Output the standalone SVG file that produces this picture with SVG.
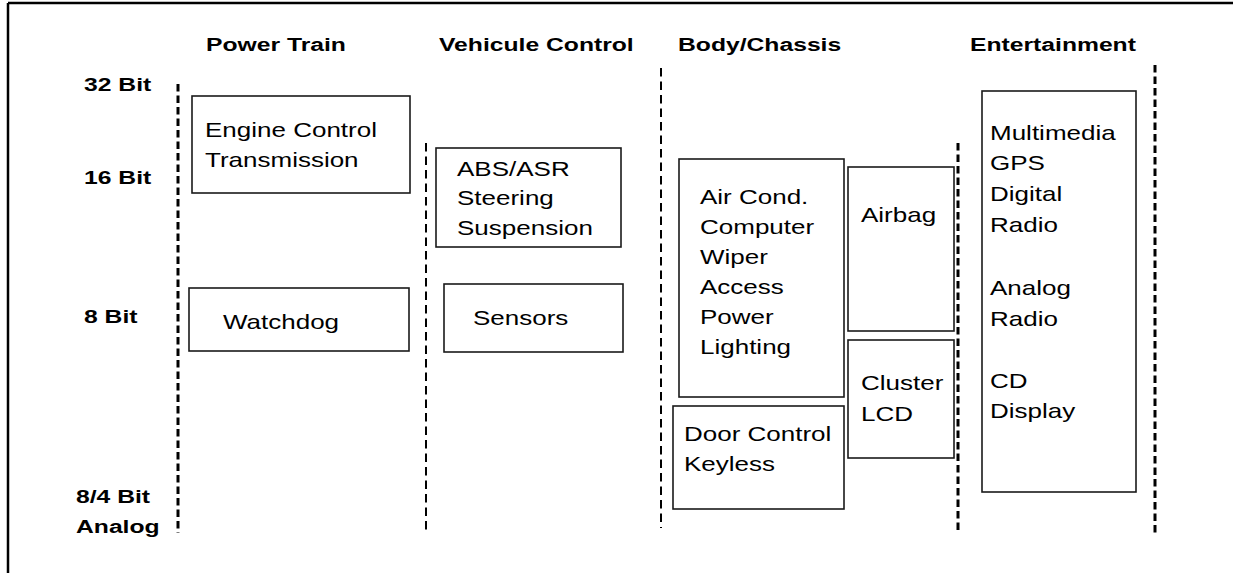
<svg xmlns="http://www.w3.org/2000/svg" width="1233" height="573" viewBox="0 0 1233 573">
<style>
.r{font-family:"Liberation Sans",Arial,sans-serif;font-size:20px;fill:#000}
.b{font-family:"Liberation Sans",Arial,sans-serif;font-size:19px;font-weight:bold;fill:#000}
.box{fill:#fff;stroke:#1a1a1a;stroke-width:1.6}
.dk{stroke:#000;stroke-width:3;stroke-dasharray:7.5 4;fill:none}
.dt{stroke:#000;stroke-width:2;stroke-dasharray:8.5 5;fill:none}
</style>
<rect width="1233" height="573" fill="#fff"/>
<g id="frame">
<line x1="8" y1="3" x2="1233" y2="3" stroke="#000" stroke-width="2.5"/>
<line x1="8" y1="3" x2="8" y2="573" stroke="#000" stroke-width="2.5"/>
</g>
<g id="connectors">
<line class="dk" x1="178" y1="84" x2="178" y2="533"/>
<line class="dt" x1="426" y1="143" x2="426" y2="533"/>
<line class="dt" x1="661" y1="68" x2="661" y2="528"/>
<line class="dk" x1="958" y1="143" x2="958" y2="533"/>
<line class="dk" x1="1155" y1="65" x2="1155" y2="533"/>
</g>
<g id="headers">
<text class="b" transform="matrix(1.3 0 0 1 206 51)">Power Train</text>
<text class="b" transform="matrix(1.3 0 0 1 439 51)">Vehicule Control</text>
<text class="b" transform="matrix(1.3 0 0 1 678 51)">Body/Chassis</text>
<text class="b" transform="matrix(1.3 0 0 1 970 51)">Entertainment</text>
</g>
<g id="rows">
<text class="b" transform="matrix(1.3 0 0 1 84 91)">32 Bit</text>
<text class="b" transform="matrix(1.3 0 0 1 84 184)">16 Bit</text>
<text class="b" transform="matrix(1.3 0 0 1 84 323)">8 Bit</text>
<text class="b" transform="matrix(1.3 0 0 1 76 503)">8/4 Bit</text>
<text class="b" transform="matrix(1.3 0 0 1 76 533)">Analog</text>
</g>
<g id="engine">
<rect class="box" x="192" y="96" width="218" height="97"/>
<text class="r" transform="matrix(1.3 0 0 1 205 137)">Engine Control</text>
<text class="r" transform="matrix(1.3 0 0 1 205 167)">Transmission</text>
</g>
<g id="watchdog">
<rect class="box" x="189" y="288" width="220" height="63"/>
<text class="r" transform="matrix(1.3 0 0 1 223 329)">Watchdog</text>
</g>
<g id="abs">
<rect class="box" x="436" y="148" width="185" height="99"/>
<text class="r" transform="matrix(1.3 0 0 1 457 176)">ABS/ASR</text>
<text class="r" transform="matrix(1.3 0 0 1 457 205)">Steering</text>
<text class="r" transform="matrix(1.3 0 0 1 457 235)">Suspension</text>
</g>
<g id="sensors">
<rect class="box" x="444" y="284" width="179" height="68"/>
<text class="r" transform="matrix(1.3 0 0 1 473 325)">Sensors</text>
</g>
<g id="body">
<rect class="box" x="679" y="159" width="165" height="238"/>
<text class="r" transform="matrix(1.3 0 0 1 700 204)">Air Cond.</text>
<text class="r" transform="matrix(1.3 0 0 1 700 234)">Computer</text>
<text class="r" transform="matrix(1.3 0 0 1 700 264)">Wiper</text>
<text class="r" transform="matrix(1.3 0 0 1 700 294)">Access</text>
<text class="r" transform="matrix(1.3 0 0 1 700 324)">Power</text>
<text class="r" transform="matrix(1.3 0 0 1 700 354)">Lighting</text>
</g>
<g id="airbag">
<rect class="box" x="848" y="167" width="106" height="164"/>
<text class="r" transform="matrix(1.3 0 0 1 861 222)">Airbag</text>
</g>
<g id="cluster">
<rect class="box" x="848" y="340" width="106" height="118"/>
<text class="r" transform="matrix(1.3 0 0 1 861 390)">Cluster</text>
<text class="r" transform="matrix(1.3 0 0 1 861 421)">LCD</text>
</g>
<g id="door">
<rect class="box" x="673" y="406" width="171" height="103"/>
<text class="r" transform="matrix(1.3 0 0 1 684 441)">Door Control</text>
<text class="r" transform="matrix(1.3 0 0 1 684 471)">Keyless</text>
</g>
<g id="entertainment">
<rect class="box" x="982" y="91" width="154" height="401"/>
<text class="r" transform="matrix(1.3 0 0 1 990 140)">Multimedia</text>
<text class="r" transform="matrix(1.3 0 0 1 990 170)">GPS</text>
<text class="r" transform="matrix(1.3 0 0 1 990 201)">Digital</text>
<text class="r" transform="matrix(1.3 0 0 1 990 232)">Radio</text>
<text class="r" transform="matrix(1.3 0 0 1 990 295)">Analog</text>
<text class="r" transform="matrix(1.3 0 0 1 990 326)">Radio</text>
<text class="r" transform="matrix(1.3 0 0 1 990 388)">CD</text>
<text class="r" transform="matrix(1.3 0 0 1 990 418)">Display</text>
</g>
</svg>
